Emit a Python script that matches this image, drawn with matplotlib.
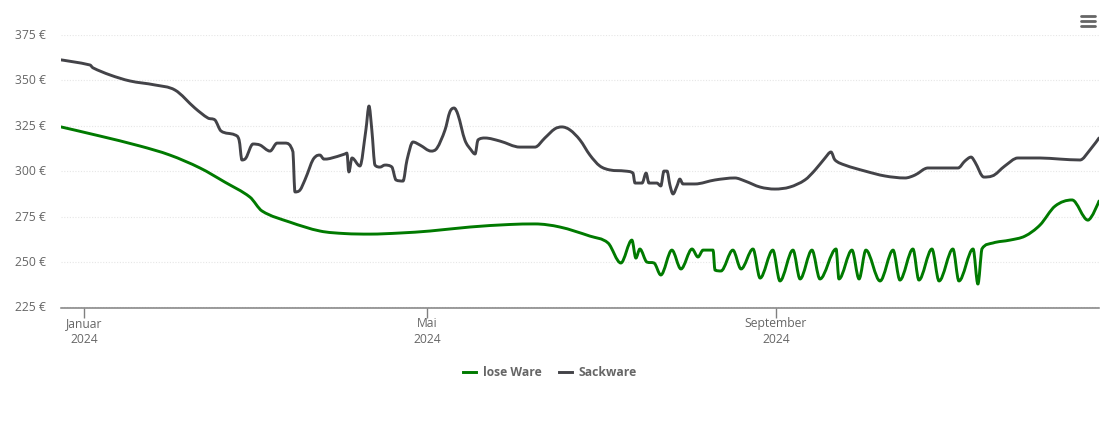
import matplotlib
matplotlib.use('Agg')
import matplotlib.pyplot as plt
import matplotlib.dates as mdates
from matplotlib.lines import Line2D
from matplotlib.patches import PathPatch
from matplotlib.path import Path
from matplotlib.transforms import ScaledTranslation

plt.rcParams['font.family'] = ['Open Sans', 'DejaVu Sans']

# Data: days since 1 Jan 2024 and price in euro
lose_days = [-8.1, 5.6, 19.7, 30.3, 40.9, 49.7, 58.5, 62.8, 72.6, 83.2, 92, 100.8, 111.4, 122, 136.1,
             150.2, 159, 167.8, 178.4, 184.8, 189.3, 193.2, 194.6, 196, 198.5, 201, 203.4, 207.3,
             210.5, 214.4, 216.5, 218.3, 221.8, 222.5, 224.6, 228.8, 231.7, 235.9, 238.4, 242.9,
             245.4, 250, 252.5, 256.7, 259.5, 265.2, 266.2, 270.8, 273.3, 275.7, 280.7, 285.3,
             287.7, 292.3, 294.4, 299, 301.5, 306.4, 308.5, 313.5, 315.2, 316.6, 320.5, 326.5,
             331.8, 337.1, 342.4, 348.4, 354, 357.9]
lose_prices = [324.4, 319.4, 313.9, 308.9, 301.8, 294, 285.8, 278.1, 272, 267.1, 265.7, 265.4, 266, 267.1, 269.3,
               270.7, 271, 269.3, 264.3, 260.5, 249.5, 262.1, 252.2, 257.2, 250, 249.5, 242.9, 256.6,
               246.2, 257.2, 252.8, 256.6, 256.6, 245.6, 245.1, 256.6, 246.2, 257.2, 241.2, 256.6,
               239.6, 256.6, 240.7, 256.6, 240.7, 257.2, 240.7, 256.6, 240.7, 256.6, 239.6, 256.6,
               240.1, 257.2, 240.1, 257.2, 239.6, 257.2, 239.6, 257.2, 237.9, 257.2, 260.5, 262.1,
               264.3, 270.4, 280.8, 284.2, 273.1, 283.6]

sack_days = [-8.1, 2.1, 3.2, 9.2, 16.2, 25, 32.1, 39.1, 43.7, 46.2, 48.3, 53.2, 54.7, 55.7, 57.1, 59.6,
             62.1, 65.6, 68.1, 70.9, 73.7, 74.4, 76.2, 77.9, 81.5, 83.2, 84.6, 86.7, 92, 92.7, 93.4,
             94.5, 97.3, 99.4, 100.5, 101.5, 102.6, 104.4, 106.1, 108.6, 110, 112.5, 113.9, 116, 118.5,
             122.4, 124.5, 127.3, 129, 130.5, 131.9, 134.3, 136.5, 137.9, 138.9, 141.4, 146.7, 153.7,
             159, 162.5, 166, 168.5, 171.4, 174.9, 178.4, 181.9, 185.5, 190.8, 193.6, 194.3, 196.8,
             198.2, 199.2, 202, 203.4, 204.5, 205.6, 206.6, 207.7, 209.1, 210.1, 211.2, 215.4, 222.5,
             229.5, 233.1, 238.4, 243.6, 248.9, 254.2, 257.8, 261.3, 263.4, 264.8, 268.3, 275.4, 282.4,
             289.5, 293, 297.6, 301.8, 308.2, 310.6, 312.8, 314.2, 317.3, 320.2, 324.7, 329.3, 337.1,
             344.1, 351.2, 354.7, 357.9]
sack_prices = [361.3, 358.5, 356.9, 353, 349.7, 347.5, 344.7, 334.8, 329.3, 328.2, 322.2, 320, 317.2, 306.2, 307.3, 315,
               314.4, 311.1, 315.5, 315.5, 310.6, 288.6, 289.7, 295.2, 307.8, 308.9, 306.7, 307, 309.5, 310, 299.6,
               307.3, 302.9, 322.7, 335.9, 322.7, 303.4, 302.3, 303.4, 302.3, 295.2, 294.6, 306.2, 316.1, 314.4,
               311.1, 312.8, 322.7, 332.6, 334.8, 331, 317.2, 311.7, 309.5, 317.2, 318.3, 316.6, 313.3,
               313.3, 318.3, 323.3, 324.4, 322.7, 317.2, 308.9, 302.9, 300.7, 300.1, 299, 293.5, 293.5,
               299, 293.5, 293.5, 291.9, 300.1, 300.1, 292.4, 287.5, 291.9, 295.7, 293, 293, 295.2,
               296.3, 294.6, 291.3, 290.2, 291.3, 295.2, 300.7, 307.3, 310.6, 306.2, 303.4, 300.1, 297.4,
               296.3, 297.9, 301.8, 301.8, 301.8, 305.6, 307.8, 305, 296.8, 297.4, 302.9, 307.3, 307.3,
               306.7, 306.2, 311.7, 318.3]

y_ticks = [225, 250, 275, 300, 325, 350, 375]
x_tick_dates = ['2024-01-01', '2024-05-01', '2024-09-01']
x_tick_labels = ['Januar\n2024', 'Mai\n2024', 'September\n2024']
series_names = ['lose Ware', 'Sackware']

GREEN = '#007a00'
GREY = '#434348'
TEXT = '#666666'


def spline_path(x, y, smoothing=2.0):
    # same kind of spline the chart uses: flat tangents at local extremes
    verts = [(x[0], y[0])]
    codes = [Path.MOVETO]
    right_x, right_y = x[0], y[0]
    n = len(x)
    for i in range(1, n):
        if i < n - 1:
            lx = (smoothing * x[i] + x[i - 1]) / (smoothing + 1)
            ly = (smoothing * y[i] + y[i - 1]) / (smoothing + 1)
            rx = (smoothing * x[i] + x[i + 1]) / (smoothing + 1)
            ry = (smoothing * y[i] + y[i + 1]) / (smoothing + 1)
            corr = (ry - ly) * (rx - x[i]) / (rx - lx) + y[i] - ry
            ly += corr
            ry += corr
            if ly > y[i - 1] and ly > y[i]:
                ly = max(y[i - 1], y[i])
                ry = 2 * y[i] - ly
            elif ly < y[i - 1] and ly < y[i]:
                ly = min(y[i - 1], y[i])
                ry = 2 * y[i] - ly
            if ry > y[i + 1] and ry > y[i]:
                ry = max(y[i + 1], y[i])
                ly = 2 * y[i] - ry
            elif ry < y[i + 1] and ry < y[i]:
                ry = min(y[i + 1], y[i])
                ly = 2 * y[i] - ry
        else:
            lx, ly, rx, ry = x[i], y[i], x[i], y[i]
        verts += [(right_x, right_y), (lx, ly), (x[i], y[i])]
        codes += [Path.CURVE4] * 3
        right_x, right_y = rx, ry
    return Path(verts, codes)


W, H = 1110, 422
fig = plt.figure(figsize=(W / 100, H / 100), dpi=100)
ax = fig.add_axes([61 / W, 1 - 307.5 / H, (1099 - 61) / W, (307.5 - 35) / H])

base = mdates.datestr2num('2024-01-01')
for days, prices, color in [(lose_days, lose_prices, GREEN), (sack_days, sack_prices, GREY)]:
    xs = [base + d for d in days]
    ax.add_patch(PathPatch(spline_path(xs, prices), fill=False, edgecolor=color,
                           linewidth=2.1, capstyle='round', joinstyle='round', zorder=3))

ax.set_xlim(base + lose_days[0], base + lose_days[-1])
ax.set_ylim(225, 375)

ax.set_yticks(y_ticks)
ax.set_yticklabels([f'{v} €' for v in y_ticks])
ax.set_xticks([mdates.datestr2num(d) for d in x_tick_dates])
ax.set_xticklabels(x_tick_labels, linespacing=1.25)
ax.tick_params(axis='y', length=0, pad=11, labelsize=8.7, labelcolor=TEXT)
ax.tick_params(axis='x', length=7.5, width=1, color='#808080', pad=-0.5, labelsize=8.7, labelcolor=TEXT)
ax.grid(axis='y', color='#e6e6e6', linewidth=0.8, linestyle=(0, (1, 1.5)), zorder=0)
ax.set_axisbelow(True)
ax.patch.set_alpha(0)

# y labels sit a pixel higher than the grid line
for lab in ax.get_yticklabels():
    lab.set_transform(lab.get_transform() + ScaledTranslation(0, 1 / 100, fig.dpi_scale_trans))

for side in ['top', 'left', 'right']:
    ax.spines[side].set_visible(False)
ax.spines['bottom'].set_color('#808080')
ax.spines['bottom'].set_linewidth(1.1)

handles = [Line2D([], [], color=GREEN, lw=2.1), Line2D([], [], color=GREY, lw=2.1)]
leg = fig.legend(handles, series_names, loc='center', bbox_to_anchor=(550 / W, 1 - 373 / H), ncol=2,
                 frameon=False, handlelength=1.1, handletextpad=0.55, columnspacing=1.45,
                 prop={'size': 8.7, 'weight': 'bold'})
for t in leg.get_texts():
    t.set_color(TEXT)

# menu icon top right
for py in [16, 21, 26]:
    fig.add_artist(Line2D([1081 / W, 1095 / W], [1 - py / H, 1 - py / H], color='#666666',
                          lw=2, solid_capstyle='round'))

fig.savefig('out.png', dpi=100)
